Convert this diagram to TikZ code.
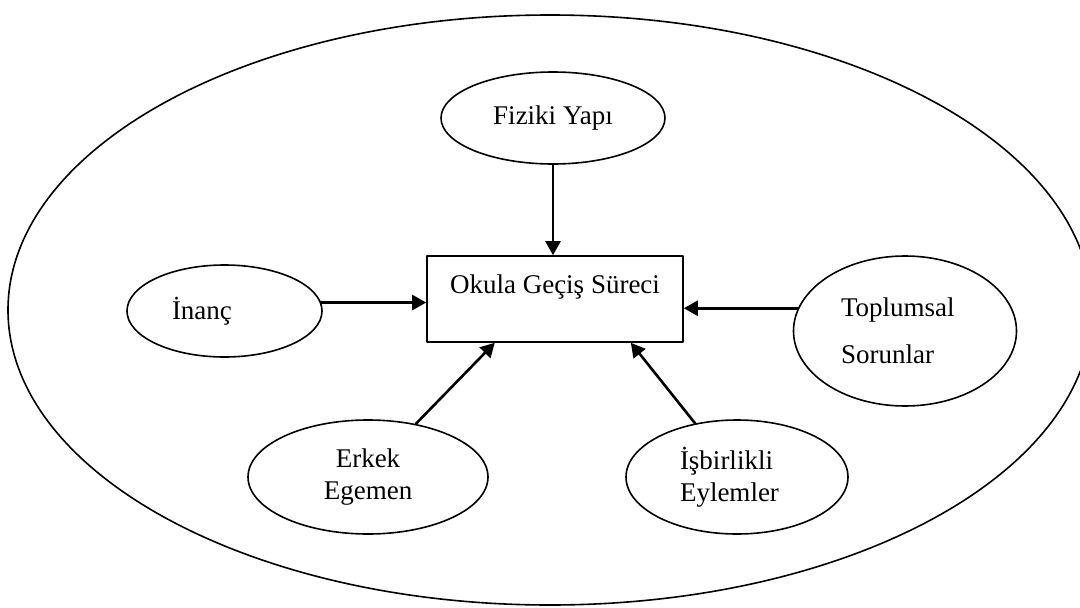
\documentclass[tikz,border=0pt]{standalone}
\usepackage{fontspec}
\setmainfont{Liberation Serif}
\usetikzlibrary{shapes.geometric,arrows.meta}
\begin{document}
\begin{tikzpicture}[x=1pt, y=-1pt, line join=round, line cap=round,
            >={Triangle[length=14pt,width=15pt]},
            font=\fontsize{27}{32}\selectfont,
            oval/.style={draw, ellipse, line width=1.6pt, inner sep=0pt},
            ok/.style={->, line width=2.6pt}]
            \useasboundingbox (0,0) rectangle (1080,608);
            \draw[line width=1.6pt] (550,310) ellipse [x radius=542, y radius=295];
            \node[draw, line width=1.6pt, minimum width=256pt, minimum height=86pt, inner sep=0pt,
                text height=20pt, text depth=31pt] (surec) at (555,299) {Okula Geçiş Süreci};
            \node[oval, minimum width=224pt, minimum height=92pt] (fiziki) at (553,118) {Fiziki Yapı};
            \node[oval, minimum width=195pt, minimum height=92pt, text width=105pt, align=left] (inanc) at (224.5,311) {İnanç};
            \node[oval, minimum width=223pt, minimum height=150pt, text width=128pt, align=left] (toplum) at (905,331) {Toplumsal\\[15pt]Sorunlar};
            \node[oval, minimum width=240pt, minimum height=114pt, align=center] (erkek) at (368,477) {Erkek\\Egemen};
            \node[oval, minimum width=222pt, minimum height=114pt, text width=114pt, align=left] (isbirligi) at (737,477) {İşbirlikli\\Eylemler};
            \draw[ok] (fiziki.south) -- (fiziki.south |- surec.north);
            \draw[ok] (inanc.5) -- (inanc.5 -| surec.west);
            \draw[ok] (toplum.168) -- (toplum.168 -| surec.east);
            \foreach \from/\to in {erkek.48/surec.-144.5, isbirligi.128/surec.-30.8}
            \draw[ok] (\from) -- (\to);
    \end{tikzpicture}
\end{document}
